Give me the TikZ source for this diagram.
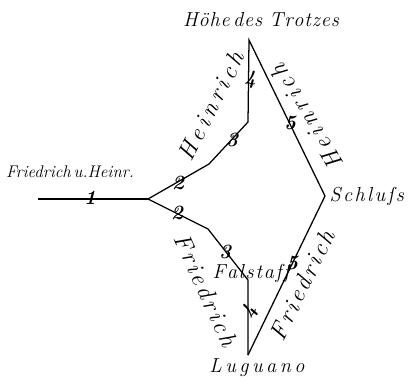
\documentclass[tikz,border=0pt]{standalone}
\usepackage{fontspec}
\usetikzlibrary{positioning, calc}

% Buchstaben auseinanderziehen
\newdimen\spgap
\def\spreadword#1{\ifx#1\relax\else#1\kern\spgap\expandafter\spreadword\fi}
\newcommand{\spacedword}[2]{\spgap=#1\relax\spreadword#2\relax\kern-\spgap}

\begin{document}
\begin{tikzpicture}[
      x=0.025cm, y=-0.025cm,
      road/.style = {line width=0.9pt, line join=miter},
      lbl/.style = {inner sep=1pt, font=\Large\itshape},
      role/.style = {inner sep=1pt, font=\LARGE\itshape},
      num/.style = {inner sep=0pt, font=\Large\itshape\bfseries}
    ]
      \useasboundingbox (0,0) rectangle (413,383);

      % --- Punkte der Handlung ---
      \coordinate (start) at (38,199);
      \coordinate (fork) at (148,199);
      \coordinate (up1) at (209,164);
      \coordinate (up2) at (248,122);
      \coordinate (hoehe) at (249,40);
      \coordinate (schluss) at (325,196);
      \coordinate (low1) at (208,229);
      \coordinate (falstaff) at (248,280);
      \coordinate (lugano) at (248,355);

      % --- Linien ---
      \draw [road] (start) -- (fork);
      \draw [road] (fork) -- (up1) -- (up2) -- (hoehe) -- (schluss) -- (lugano);
      \draw [road] (fork) -- (low1) -- (falstaff) -- (lugano);

      % --- Orte ---
      \node [lbl] (hoeheL) at (261,20) {\spacedword{0.6pt}{Höhe}\,\spacedword{0.6pt}{des}\ \spacedword{0.6pt}{Trotzes}};
      \node [lbl, font=\large\itshape] (startL) at (70,172) {Friedrich\,u.Heinr.};
      \node [lbl, right=2pt of schluss] (schlussL) {\spacedword{1.7pt}{Schluſs}};
      \node [lbl] (falstaffL) at (251,273) {\spacedword{1.2pt}{Falstaff}};
      \node [lbl] (luganoL) at (257,368) {\spacedword{2.5pt}{Luguano}};

      % --- Namen an den Linien ---
      \node [role, rotate=63] (heinr1) at (211,106) {\spacedword{3pt}{Heinrich}};
      \node [role, rotate=121] (heinr2) at (307,117) {\spacedword{3pt}{Heinrich}};
      \node [role, rotate=-66] (fried1) at (206,290) {\spacedword{2.2pt}{Friedrich}};
      \node [role, rotate=64] (fried2) at (302,285) {\spacedword{2pt}{Friedrich}};

      % --- Akte ---
      \node [num] (n1) at (90,198) {1};
      \node [num] (n2a) at (178,183) {2};
      \node [num] (n3a) at (232,140) {3};
      \node [num] (n4a) at (250,80) {4};
      \node [num] (n5a) at (290,123) {5};
      \node [num] (n2b) at (177,213) {2};
      \node [num] (n3b) at (225,252) {3};
      \node [num, rotate=64] (n4b) at (250,312) {4};
      \node [num] (n5b) at (292,263) {5};

    \end{tikzpicture}
\end{document}
